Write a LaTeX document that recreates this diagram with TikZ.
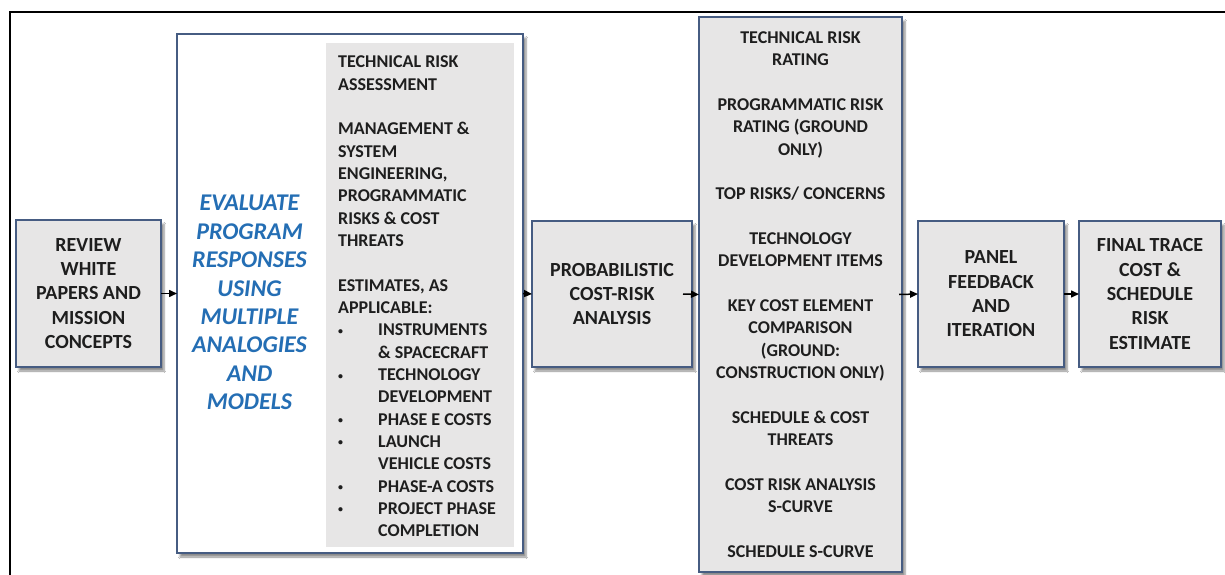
\documentclass[tikz,border=0pt]{standalone}
\usepackage{fontspec}
\setmainfont{Carlito}
\usetikzlibrary{shadows.blur,arrows.meta}
\definecolor{boxgray}{RGB}{231,230,230}
\definecolor{boxedge}{RGB}{70,92,130}
\definecolor{evalblue}{RGB}{36,110,180}
\definecolor{txt}{RGB}{30,30,30}
\tikzset{
  graybox/.style={draw=boxedge, line width=2pt, fill=boxgray, inner sep=0pt, outer sep=0pt,
    align=center, text=txt, font=\bfseries\fontsize{20}{24.3}\selectfont,
    blur shadow={shadow xshift=3pt, shadow yshift=-4pt, shadow blur steps=6, shadow opacity=45}},
  smalltext/.style={font=\bfseries\fontsize{18}{22.33}\selectfont},
  flow/.style={line width=1.5pt, -{Triangle[length=8pt,width=7pt]}},
  listtext/.style={font=\bfseries\fontsize{18}{22.33}\selectfont, text=txt, inner sep=0pt, align=left}
}
\newcommand{\bul}[1]{\makebox[40pt][l]{\raisebox{1.5pt}{\scalebox{0.55}{\textbullet}}}#1}
\newcommand{\cont}[1]{\hspace*{40pt}#1}
\begin{document}
\begin{tikzpicture}[x=1pt,y=-1pt]
\useasboundingbox (0,0) rectangle (1225,575);
\fill[white] (0,0) rectangle (1225,575);
\draw[line width=2pt] (1225,12) -- (10,12) -- (10,575);

\node[graybox, minimum width=145pt, minimum height=147pt] (b1) at (88.5,293.5)
  {REVIEW\\WHITE\\PAPERS AND\\MISSION\\CONCEPTS};

\node[graybox, fill=white, minimum width=346pt, minimum height=519pt] (b2) at (350,293.5) {};
\node[fill=boxgray, inner sep=0pt, minimum width=188pt, minimum height=504pt] (inner) at (420,295) {};
\node[font=\bfseries\itshape\fontsize{24}{28.4}\selectfont, text=evalblue, align=center, inner sep=0pt] (eval) at (249.5,302.5)
  {EVALUATE\\PROGRAM\\RESPONSES\\USING\\MULTIPLE\\ANALOGIES\\AND\\MODELS};
\node[listtext, anchor=west] (list) at (338,296.5)
  {TECHNICAL RISK\\ASSESSMENT\\[22.33pt]
   MANAGEMENT \&\\SYSTEM\\ENGINEERING,\\PROGRAMMATIC\\RISKS \& COST\\THREATS\\[22.33pt]
   ESTIMATES, AS\\APPLICABLE:\\
   \bul{INSTRUMENTS}\\\cont{\& SPACECRAFT}\\
   \bul{TECHNOLOGY}\\\cont{DEVELOPMENT}\\
   \bul{PHASE E COSTS}\\
   \bul{LAUNCH}\\\cont{VEHICLE COSTS}\\
   \bul{PHASE-A COSTS}\\
   \bul{PROJECT PHASE}\\\cont{COMPLETION}};

\node[graybox, minimum width=160pt, minimum height=146pt] (b3) at (612,294)
  {PROBABILISTIC\\COST-RISK\\ANALYSIS};

\node[graybox, smalltext, minimum width=203pt, minimum height=555pt] (b4) at (800.5,294.5)
  {TECHNICAL RISK\\RATING\\[22.33pt]
   PROGRAMMATIC RISK\\RATING (GROUND\\ONLY)\\[22.33pt]
   TOP RISKS/ CONCERNS\\[22.33pt]
   TECHNOLOGY\\DEVELOPMENT ITEMS\\[22.33pt]
   KEY COST ELEMENT\\COMPARISON\\(GROUND:\\CONSTRUCTION ONLY)\\[22.33pt]
   SCHEDULE \& COST\\THREATS\\[22.33pt]
   COST RISK ANALYSIS\\S-CURVE\\[22.33pt]
   SCHEDULE S-CURVE};

\node[graybox, minimum width=146pt, minimum height=146pt] (b5) at (991,294)
  {PANEL\\FEEDBACK\\AND\\ITERATION};

\node[graybox, minimum width=142pt, minimum height=146pt] (b6) at (1150,294)
  {FINAL TRACE\\COST \&\\SCHEDULE\\RISK\\ESTIMATE};

\draw[flow] (b1.east) -- (b2.west);
\draw[flow] (b2.east) -- (b3.west);
\draw[flow] ([xshift=-9pt]b3.east) -- (b4.west);
\draw[flow] ([xshift=-3pt]b4.east) -- (b5.west);
\draw[flow] (b5.east) -- (b6.west);
\end{tikzpicture}
\end{document}
